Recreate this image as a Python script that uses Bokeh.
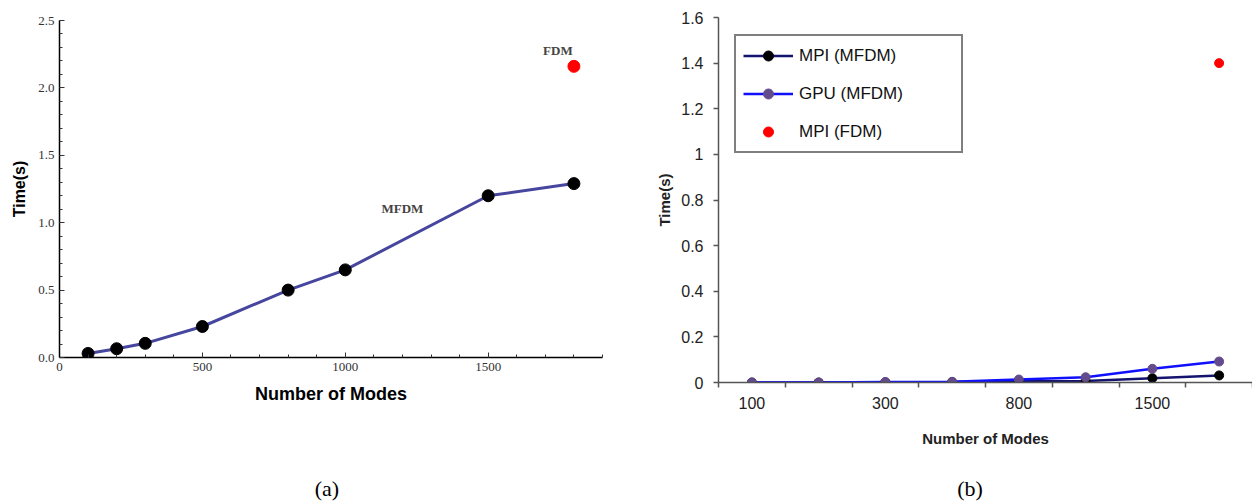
import numpy as np
from bokeh.plotting import figure
from bokeh.layouts import row, column
from bokeh.models import Label, Legend, LegendItem, FixedTicker, CustomJSTickFormatter, Div
from bokeh.embed import file_html
from bokeh.resources import INLINE

# ---------------- data: panel (a) ----------------
modes_a = [100, 200, 300, 500, 800, 1000, 1500, 1800]
time_mfdm_a = [0.03, 0.065, 0.105, 0.23, 0.50, 0.65, 1.20, 1.29]
fdm_mode_a = [1800]
time_fdm_a = [2.16]
x_ticks_a = [0, 500, 1000, 1500]
y_ticks_a = [0.0, 0.5, 1.0, 1.5, 2.0, 2.5]

# ---------------- data: panel (b) ----------------
modes_b = ["100", "200", "300", "500", "800", "1000", "1500", "1800"]
shown_b = ["100", "300", "800", "1500"]
mpi_mfdm_b = [0.0, 0.0, 0.001, 0.002, 0.005, 0.007, 0.019, 0.031]
gpu_mfdm_b = [0.0, 0.0, 0.002, 0.003, 0.013, 0.023, 0.060, 0.092]
fdm_mode_b = ["1800"]
mpi_fdm_b = [1.40]
y_ticks_b = [0.0, 0.2, 0.4, 0.6, 0.8, 1.0, 1.2, 1.4, 1.6]

captions = ["(a)", "(b)"]

SERIF = "Liberation Serif"
SANS = "Liberation Sans"
FIG_H = 476

# ================= panel (a) =================
p1 = figure(width=620, height=FIG_H, x_range=(0, 1900), y_range=(0, 2.5),
            output_backend="svg", toolbar_location=None,
            min_border_left=59, min_border_right=18, min_border_top=20,
            min_border_bottom=FIG_H - 357)
p1.frame_align = False
p1.outline_line_color = None
p1.grid.visible = False

p1.line(modes_a, time_mfdm_a, line_color="#46469e", line_width=3)
p1.scatter(modes_a, time_mfdm_a, size=12, fill_color="black", line_color="black")
p1.scatter(fdm_mode_a, time_fdm_a, size=12, fill_color="#ff0000", line_color="#ff0000")

p1.xaxis.ticker = FixedTicker(ticks=x_ticks_a, minor_ticks=list(np.arange(0, 1901, 100)))
p1.yaxis.ticker = FixedTicker(ticks=y_ticks_a, minor_ticks=list(np.round(np.arange(0, 2.51, 0.1), 2)))
for ax in (p1.xaxis[0], p1.yaxis[0]):
    ax.axis_line_color = "black"
    ax.axis_line_width = 1.5
    ax.major_tick_in = 5
    ax.major_tick_out = 0
    ax.minor_tick_in = 3
    ax.minor_tick_out = 0
    ax.major_tick_line_color = "#333333"
    ax.minor_tick_line_color = "#333333"
    ax.major_label_text_font = SERIF
    ax.major_label_text_font_size = "13px"
    ax.major_label_text_color = "#333333"
    ax.axis_label_text_font = SANS
    ax.axis_label_text_font_style = "bold"
    ax.axis_label_text_color = "black"
p1.yaxis.formatter = CustomJSTickFormatter(code="return tick.toFixed(1);")
p1.xaxis.axis_label = "Number of Modes"
p1.xaxis.axis_label_text_font_size = "18px"
p1.xaxis.major_label_standoff = 5
p1.xaxis.axis_label_standoff = 10
p1.yaxis.axis_label = "Time(s)"
p1.yaxis.axis_label_text_font_size = "16px"
p1.yaxis.major_label_standoff = 5
p1.yaxis.axis_label_standoff = 7

p1.add_layout(Label(x=fdm_mode_a[0], y=time_fdm_a[0], x_offset=-16, y_offset=16,
                    text="FDM", text_align="center", text_baseline="middle",
                    text_font=SERIF, text_font_style="bold", text_font_size="13px"))
p1.add_layout(Label(x=1200, y=1.105, text="MFDM", text_align="center",
                    text_baseline="middle", text_font=SERIF, text_font_style="bold",
                    text_font_size="13px"))

# ================= panel (b) =================
x_b = [i + 1 for i in range(len(modes_b))]
x_fdm_b = [modes_b.index(m) + 1 for m in fdm_mode_b]

p2 = figure(width=632, height=FIG_H, x_range=(0.5, len(modes_b) + 0.5), y_range=(0, 1.6),
            output_backend="svg", toolbar_location=None,
            min_border_left=98, min_border_right=0, min_border_top=17,
            min_border_bottom=FIG_H - 382)
p2.frame_align = False
p2.outline_line_color = None
p2.grid.visible = False

r_mpi_l = p2.line(x_b, mpi_mfdm_b, line_color="#14146e", line_width=2.5)
r_gpu_l = p2.line(x_b, gpu_mfdm_b, line_color="#1010ff", line_width=2.5)
r_mpi_s = p2.scatter(x_b, mpi_mfdm_b, size=9, fill_color="black", line_color="black")
r_gpu_s = p2.scatter(x_b, gpu_mfdm_b, size=9, fill_color="#634b8c", line_color="#634b8c")
r_fdm = p2.scatter(x_fdm_b, mpi_fdm_b, size=9, fill_color="#ff0000", line_color="#ff0000")

p2.xaxis.ticker = FixedTicker(ticks=[modes_b.index(m) + 1 for m in shown_b],
                              minor_ticks=[i + 0.5 for i in range(len(modes_b) + 1)])
p2.xaxis.major_label_overrides = {modes_b.index(m) + 1: m for m in shown_b}
p2.yaxis.ticker = FixedTicker(ticks=y_ticks_b)
p2.yaxis.formatter = CustomJSTickFormatter(code="return tick.toFixed(1).replace(/\\.0$/, '');")
for ax in (p2.xaxis[0], p2.yaxis[0]):
    ax.axis_line_color = "#555555"
    ax.axis_line_width = 1.5
    ax.major_tick_line_color = "#555555"
    ax.minor_tick_line_color = "#555555"
    ax.minor_tick_line_width = 1.5
    ax.major_tick_line_width = 1.5
    ax.major_label_text_font = SANS
    ax.major_label_text_font_size = "16px"
    ax.major_label_text_color = "#222222"
    ax.axis_label_text_font = SANS
    ax.axis_label_text_font_style = "bold"
    ax.axis_label_text_font_size = "15px"
    ax.axis_label_text_color = "#222222"
p2.xaxis.major_tick_in = 0
p2.xaxis.major_tick_out = 0
p2.xaxis.minor_tick_in = 0
p2.xaxis.minor_tick_out = 5
p2.xaxis.major_label_standoff = 9
p2.xaxis.axis_label = "Number of Modes"
p2.xaxis.axis_label_standoff = 18
p2.yaxis.major_tick_in = 0
p2.yaxis.major_tick_out = 5
p2.yaxis.minor_tick_line_color = None
p2.yaxis.major_label_standoff = 10
p2.yaxis.axis_label = "Time(s)"
p2.yaxis.axis_label_standoff = 5

legend = Legend(items=[
    LegendItem(label="MPI (MFDM)", renderers=[r_mpi_l, r_mpi_s]),
    LegendItem(label="GPU (MFDM)", renderers=[r_gpu_l, r_gpu_s]),
    LegendItem(label="MPI (FDM)", renderers=[r_fdm]),
], location=(16, 229))
legend.border_line_color = "black"
legend.border_line_width = 2
legend.background_fill_color = "white"
legend.background_fill_alpha = 1
legend.padding = 7
legend.spacing = 13
legend.glyph_width = 50
legend.glyph_height = 25
legend.label_height = 25
legend.label_width = 155
legend.label_standoff = 6
legend.margin = 0
legend.label_text_font = SANS
legend.label_text_font_size = "17px"
legend.label_text_color = "#111111"
p2.add_layout(legend)

# ================= captions =================
def caption(text, width, pad_left):
    return Div(text=text, width=width, height=26, margin=0,
               styles={"text-align": "center", "font-family": "'Liberation Serif', serif",
                       "font-size": "22px", "line-height": "26px",
                       "padding-left": f"{pad_left}px", "box-sizing": "border-box",
                       "color": "black"})

cap_a = caption(captions[0], 620, 34)
cap_b = caption(captions[1], 632, 68)

layout = column(row(p1, p2), row(cap_a, cap_b))
open("out.html", "w").write(file_html(layout, INLINE))
